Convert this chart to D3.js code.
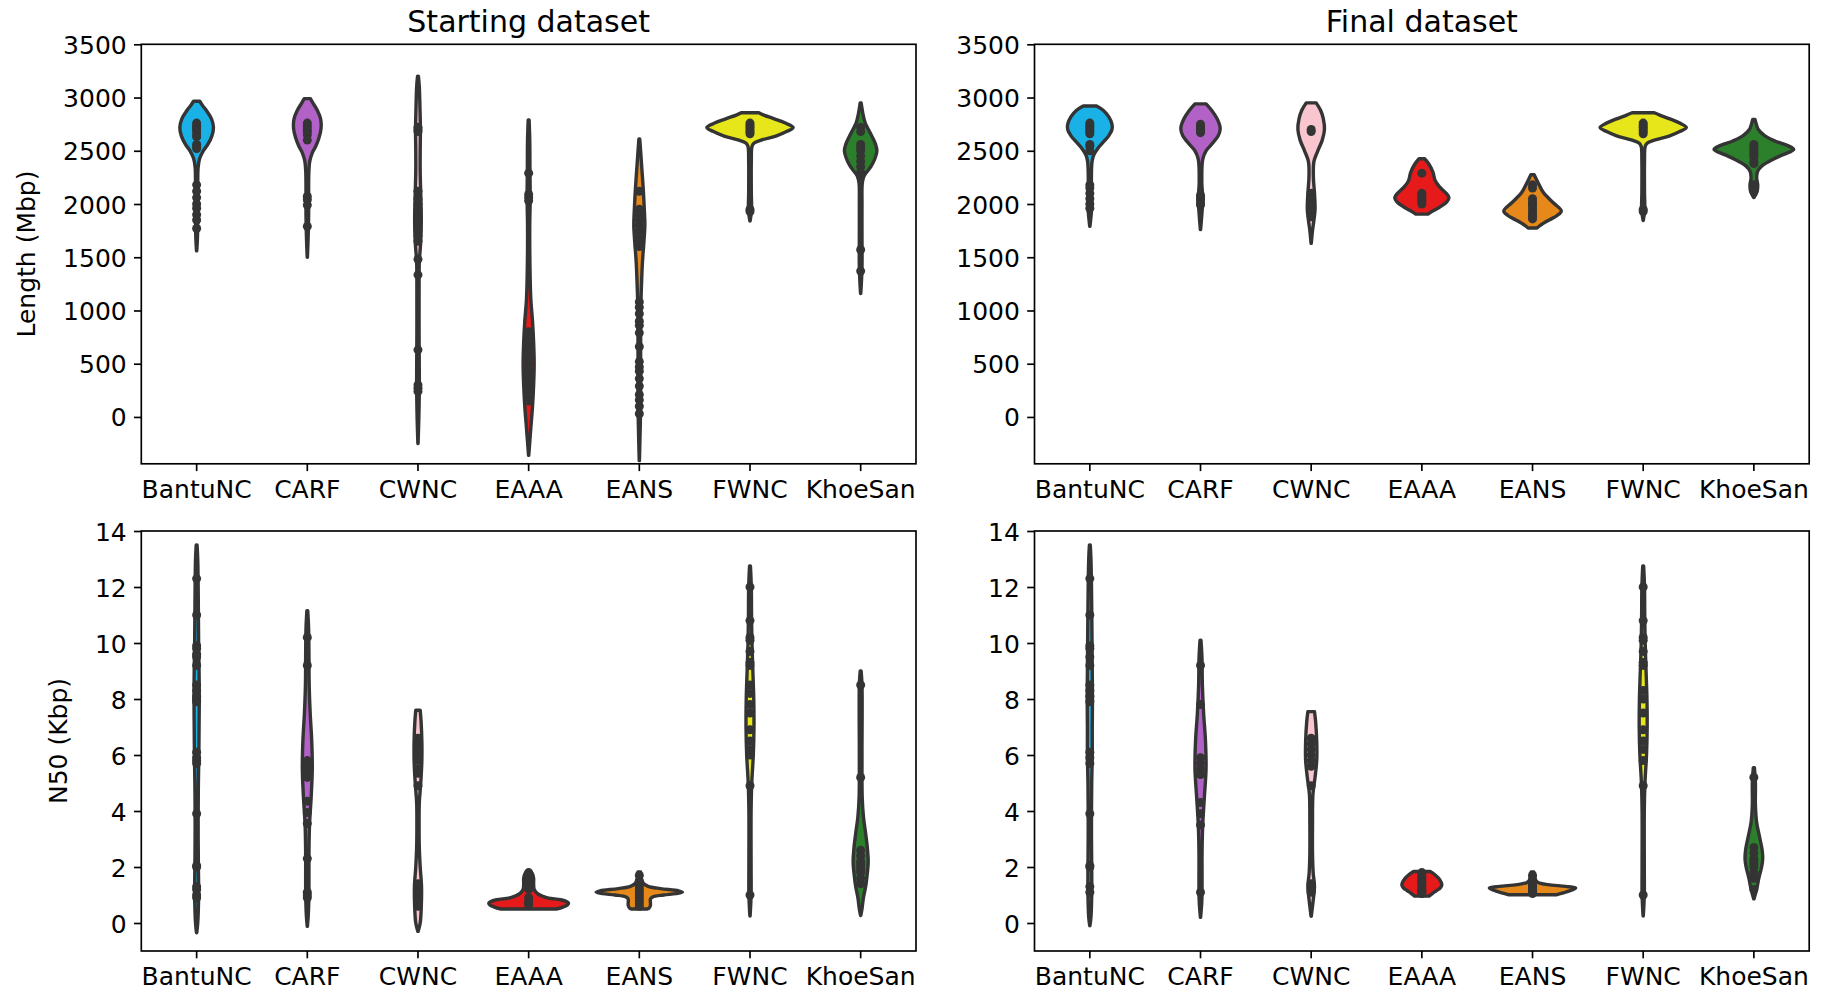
<!DOCTYPE html>
<html>
<head>
<meta charset="utf-8">
<script src="https://cdn.jsdelivr.net/npm/d3@7"></script>
<style>
  html, body { margin: 0; padding: 0; background: #fff; }
  svg { display: block; font-family: "DejaVu Sans", sans-serif; }
</style>
</head>
<body>
<svg id="chart" width="1829" height="990"></svg>
<script>
// ---------------- DATA ----------------
const categories = ["BantuNC", "CARF", "CWNC", "EAAA", "EANS", "FWNC", "KhoeSan"];
const colors = ["#1ab2e6", "#b262c6", "#f9c6cf", "#e61a1a", "#e6891a", "#e6e61a", "#2c802c"];
const titles = ["Starting dataset", "Final dataset"];
const yLabels = ["Length (Mbp)", "N50 (Kbp)"];
const lengthTicks = [0, 500, 1000, 1500, 2000, 2500, 3000, 3500];
const n50Ticks = [0, 2, 4, 6, 8, 10, 12, 14];
const lengthDomain = [-440, 3500];
const n50Domain = [-1, 14];

// Violin density profiles: [value, half-width as fraction of category band]
const startLengthProfiles = [
  [[2965,0.028],[2930,0.05],[2880,0.087],[2800,0.134],[2718,0.152],[2640,0.138],[2560,0.101],[2500,0.06],[2430,0.028],[2350,0.014],[2200,0.01],[1700,0.008],[1560,0.001]],
  [[2990,0.028],[2950,0.05],[2880,0.09],[2800,0.12],[2708,0.124],[2620,0.105],[2540,0.075],[2480,0.045],[2400,0.022],[2300,0.014],[2100,0.012],[1900,0.012],[1700,0.008],[1500,0.001]],
  [[3200,0.004],[3100,0.012],[2900,0.018],[2700,0.022],[2500,0.02],[2300,0.02],[2100,0.025],[1850,0.03],[1650,0.025],[1450,0.012],[1200,0.01],[800,0.01],[400,0.012],[250,0.012],[0,0.008],[-250,0.001]],
  [[2790,0.004],[2600,0.01],[2300,0.012],[2050,0.014],[1800,0.01],[1400,0.012],[1100,0.02],[900,0.035],[700,0.045],[500,0.05],[300,0.045],[100,0.035],[-100,0.02],[-360,0.001]],
  [[2610,0.004],[2450,0.015],[2300,0.025],[2150,0.035],[1950,0.045],[1800,0.05],[1650,0.042],[1450,0.028],[1250,0.02],[1050,0.014],[800,0.012],[500,0.012],[200,0.012],[0,0.01],[-200,0.006],[-410,0.001]],
  [[2857,0.08],[2835,0.125],[2800,0.22],[2760,0.32],[2718,0.39],[2680,0.33],[2640,0.24],[2600,0.1],[2570,0.035],[2540,0.018],[2400,0.012],[2100,0.012],[1950,0.014],[1840,0.001]],
  [[2950,0.004],[2850,0.02],[2765,0.04],[2640,0.1],[2560,0.135],[2500,0.147],[2430,0.13],[2356,0.095],[2300,0.055],[2262,0.03],[2200,0.015],[2000,0.012],[1700,0.012],[1400,0.012],[1160,0.001]]
];
const finalLengthProfiles = [
  [[2920,0.06],[2880,0.12],[2820,0.17],[2750,0.2],[2700,0.2],[2640,0.17],[2580,0.12],[2520,0.07],[2460,0.035],[2400,0.02],[2200,0.014],[2000,0.018],[1900,0.012],[1790,0.001]],
  [[2940,0.05],[2880,0.1],[2800,0.15],[2710,0.178],[2640,0.16],[2560,0.1],[2500,0.05],[2420,0.02],[2200,0.012],[2050,0.02],[1900,0.012],[1760,0.001]],
  [[2950,0.045],[2880,0.085],[2800,0.11],[2700,0.12],[2600,0.1],[2500,0.06],[2400,0.025],[2250,0.02],[2100,0.03],[1950,0.035],[1850,0.025],[1750,0.012],[1630,0.001]],
  [[2425,0.025],[2380,0.06],[2300,0.1],[2220,0.12],[2160,0.16],[2100,0.22],[2060,0.245],[2020,0.225],[1970,0.16],[1930,0.09],[1905,0.055]],
  [[2275,0.015],[2200,0.05],[2105,0.1],[2010,0.19],[1935,0.26],[1890,0.22],[1850,0.15],[1800,0.07],[1775,0.04]],
  [[2857,0.1],[2835,0.15],[2800,0.24],[2760,0.33],[2718,0.39],[2680,0.33],[2640,0.24],[2600,0.1],[2570,0.035],[2540,0.018],[2400,0.012],[2100,0.012],[1950,0.014],[1845,0.001]],
  [[2795,0.01],[2740,0.025],[2700,0.04],[2640,0.1],[2592,0.19],[2551,0.3],[2513,0.36],[2466,0.27],[2419,0.17],[2356,0.07],[2310,0.035],[2250,0.025],[2180,0.035],[2120,0.03],[2060,0.001]]
];
const startN50Profiles = [
  [[13.5,0.004],[13,0.01],[12,0.014],[10,0.018],[9,0.022],[8,0.024],[7,0.022],[6,0.02],[5,0.016],[4,0.014],[3,0.014],[2,0.016],[1,0.018],[0,0.01],[-0.35,0.001]],
  [[11.15,0.004],[10.5,0.012],[9.5,0.015],[8.5,0.017],[7.5,0.026],[6.5,0.04],[5.5,0.045],[4.5,0.035],[3.5,0.02],[2.5,0.015],[1.5,0.015],[0.9,0.014],[0.3,0.009],[-0.12,0.001]],
  [[7.6,0.02],[7.2,0.028],[6.5,0.035],[5.8,0.035],[5.0,0.025],[4.3,0.012],[3.5,0.01],[2.7,0.012],[2.0,0.02],[1.3,0.032],[0.6,0.03],[0.0,0.02],[-0.3,0.001]],
  [[1.85,0.015],[1.75,0.035],[1.6,0.045],[1.4,0.045],[1.2,0.05],[1.05,0.08],[0.95,0.13],[0.89,0.18],[0.83,0.29],[0.76,0.345],[0.71,0.36],[0.64,0.35],[0.57,0.31],[0.5,0.25]],
  [[1.82,0.012],[1.7,0.016],[1.55,0.02],[1.4,0.04],[1.31,0.08],[1.23,0.19],[1.15,0.355],[1.1,0.39],[1.05,0.33],[1.0,0.22],[0.93,0.12],[0.85,0.1],[0.75,0.1],[0.62,0.1],[0.52,0.085],[0.5,0.07]],
  [[12.75,0.004],[12,0.012],[11,0.014],[10,0.018],[9,0.026],[8,0.034],[7,0.036],[6,0.03],[5,0.016],[4,0.01],[2,0.01],[1,0.01],[0.25,0.001]],
  [[9.0,0.004],[8.5,0.012],[6,0.012],[4.5,0.014],[3.8,0.025],[3.2,0.045],[2.7,0.06],[2.2,0.068],[1.7,0.058],[1.3,0.045],[0.9,0.025],[0.5,0.012],[0.27,0.001]]
];
const finalN50Profiles = [
  [[13.5,0.004],[13,0.01],[12,0.015],[10,0.02],[9,0.022],[8,0.024],[7,0.022],[6,0.022],[5,0.017],[4,0.015],[3,0.015],[2,0.017],[1,0.017],[0.2,0.01],[-0.1,0.001]],
  [[10.1,0.004],[9.5,0.013],[8.5,0.017],[7.5,0.028],[6.5,0.045],[5.5,0.05],[4.5,0.035],[3.5,0.02],[2.5,0.014],[1.5,0.014],[0.8,0.012],[0.2,0.001]],
  [[7.55,0.03],[7.2,0.04],[6.5,0.05],[5.8,0.05],[5.2,0.035],[4.6,0.016],[3.5,0.012],[2.5,0.012],[1.8,0.018],[1.3,0.03],[0.8,0.018],[0.24,0.001]],
  [[1.84,0.075],[1.75,0.11],[1.6,0.15],[1.45,0.175],[1.35,0.18],[1.25,0.165],[1.15,0.13],[1.05,0.095],[0.96,0.065]],
  [[1.82,0.012],[1.7,0.02],[1.55,0.025],[1.45,0.05],[1.37,0.14],[1.31,0.3],[1.25,0.39],[1.17,0.35],[1.07,0.27],[1.01,0.22]],
  [[12.75,0.004],[12,0.012],[11,0.014],[10,0.018],[9,0.026],[8,0.034],[7,0.036],[6,0.03],[5,0.016],[4,0.01],[2,0.01],[1,0.01],[0.25,0.001]],
  [[5.55,0.005],[5.0,0.014],[4.2,0.014],[3.6,0.025],[3.1,0.05],[2.6,0.075],[2.3,0.08],[2.0,0.07],[1.6,0.045],[1.2,0.025],[0.86,0.001]]
];

// Individual observations (inner points)
const startLengthPoints = [
  [2760,2740,2720,2700,2680,2650,2630,2560,2540,2520,2180,2120,2060,2000,1960,1900,1850,1770],
  [2760,2730,2700,2680,2650,2600,2070,2040,1990,1790],
  [2720,2700,2680,2120,2050,2000,1950,1900,1850,1800,1750,1700,1650,1480,1335,630,300,270,240],
  [2290,2090,2060,2030,800,740,700,650,600,550,500,450,400,350,300,250,200,150],
  [2120,1950,1900,1850,1800,1750,1700,1650,1600,1080,1030,970,900,860,790,660,520,470,430,360,290,210,160,100,30],
  [2760,2740,2720,2700,2680,2660,1950,1930],
  [2720,2680,2560,2530,2500,2450,2400,2350,2300,2260,1570,1370]
];
const finalLengthPoints = [
  [2760,2740,2720,2700,2680,2660,2560,2540,2500,2180,2150,2100,2050,2000,1960],
  [2750,2730,2710,2690,2670,2080,2060,2040,2010,1990],
  [2700,2680,2100,2050,2000,1960,1920,1880],
  [2290,2100,2080,2060,2040,2020,2000],
  [2180,2150,2050,2020,2000,1980,1950,1920,1900,1880,1860],
  [2760,2740,2720,2700,2680,2660,1950,1930],
  [2560,2540,2520,2500,2480,2460,2440,2400,2380,2180,2150,2120]
];
const startN50Points = [
  [12.3,11.0,9.9,9.8,9.6,9.5,9.2,8.5,8.3,8.1,8.0,7.9,6.1,5.9,5.8,5.7,3.9,2.05,2.0,1.3,1.2,1.0,0.9],
  [10.2,9.2,5.8,5.6,5.4,5.2,4.35,3.95,3.55,2.3,1.1,1.0,0.9],
  [6.6,6.4,6.3,6.2,6.0,5.8,5.5,5.35,4.9,1.4,1.2,1.1,1.0,0.8,0.6],
  [1.8,1.7,1.6,1.55,1.5,1.45,1.4,1.3,1.25,1.2,0.9,0.75,0.7,0.65],
  [1.7,1.5,1.4,1.3,1.2,1.1,1.0,0.9,0.8,0.7,0.6],
  [12.0,10.8,10.2,10.1,9.7,9.3,9.2,8.5,8.2,7.8,7.5,6.9,6.5,6.2,6.0,4.9,1.0],
  [8.5,5.2,2.6,2.4,2.2,2.1,2.0,1.9,1.8,1.6,1.4]
];
const finalN50Points = [
  [12.3,11.0,9.9,9.8,9.5,9.2,8.5,8.3,8.1,7.9,6.1,5.9,5.7,3.9,2.05,2.0,1.3,1.1],
  [9.2,7.8,5.9,5.7,5.5,5.3,4.3,3.9,3.5,1.1],
  [6.6,6.4,6.2,6.0,5.8,5.6,4.9,1.4,1.3,1.2,1.1],
  [1.8,1.7,1.6,1.5,1.45,1.4,1.3,1.2,1.15,1.1,1.05],
  [1.7,1.55,1.45,1.35,1.3,1.25,1.2,1.15,1.1,1.05],
  [12.0,10.8,10.2,10.1,9.7,9.3,9.2,8.3,8.0,7.5,6.9,6.5,6.2,5.8,4.9,1.0],
  [5.2,2.7,2.5,2.3,2.2,2.1,2.0,1.8,1.6,1.2]
];

// ---------------- LAYOUT ----------------
const outline = "#343434";
const fontPx = 25, titlePx = 30;
const colX = [[141.3, 916.0], [1034.5, 1809.2]];
const rowY = [[44.3, 463.8], [531.0, 951.0]];
const yLabelX = [35, 66.5];

const panels = [
  {row: 0, col: 0, profiles: startLengthProfiles, points: startLengthPoints, domain: lengthDomain, ticks: lengthTicks},
  {row: 0, col: 1, profiles: finalLengthProfiles, points: finalLengthPoints, domain: lengthDomain, ticks: lengthTicks},
  {row: 1, col: 0, profiles: startN50Profiles, points: startN50Points, domain: n50Domain, ticks: n50Ticks},
  {row: 1, col: 1, profiles: finalN50Profiles, points: finalN50Points, domain: n50Domain, ticks: n50Ticks}
];

const svg = d3.select("#chart");
svg.append("rect").attr("width", 1829).attr("height", 990).attr("fill", "#fff");

panels.forEach(p => {
  const [x0, x1] = colX[p.col];
  const [yTop, yBot] = rowY[p.row];
  const x = d3.scaleBand().domain(categories).range([x0, x1]).padding(0);
  const y = d3.scaleLinear().domain(p.domain).range([yBot, yTop]);
  const bw = x.bandwidth();
  const g = svg.append("g");

  // violins
  categories.forEach((cat, i) => {
    const cx = x(cat) + bw / 2;
    const prof = p.profiles[i];
    const area = d3.area()
      .y(d => y(d[0]))
      .x0(d => cx - d[1] * bw)
      .x1(d => cx + d[1] * bw)
      .curve(d3.curveCatmullRom.alpha(0.5));
    g.append("path")
      .attr("d", area(prof))
      .attr("fill", colors[i])
      .attr("stroke", outline)
      .attr("stroke-width", 3.4)
      .attr("stroke-linejoin", "round");
    g.selectAll(null)
      .data(p.points[i])
      .enter().append("circle")
      .attr("cx", cx)
      .attr("cy", d => y(d))
      .attr("r", 4.5)
      .attr("fill", outline);
  });

  // frame
  g.append("rect")
    .attr("x", x0).attr("y", yTop)
    .attr("width", x1 - x0).attr("height", yBot - yTop)
    .attr("fill", "none").attr("stroke", "#000").attr("stroke-width", 1.67);

  // y axis
  const yAxis = d3.axisLeft(y).tickValues(p.ticks).tickSize(7.3).tickPadding(7.3).tickFormat(d3.format("d"));
  const ya = g.append("g").attr("transform", `translate(${x0},0)`).call(yAxis);
  ya.select(".domain").remove();
  ya.selectAll(".tick line").attr("stroke", "#000").attr("stroke-width", 1.67);
  ya.selectAll(".tick text").attr("font-size", fontPx).attr("fill", "#000")
    .attr("font-family", "DejaVu Sans").attr("dy", "0.36em");

  // x axis
  const xAxis = d3.axisBottom(x).tickSize(7.3).tickPadding(7.3);
  const xa = g.append("g").attr("transform", `translate(0,${yBot})`).call(xAxis);
  xa.select(".domain").remove();
  xa.selectAll(".tick line").attr("stroke", "#000").attr("stroke-width", 1.67);
  xa.selectAll(".tick text").attr("font-size", fontPx).attr("fill", "#000")
    .attr("font-family", "DejaVu Sans").attr("y", 34.3).attr("dy", 0);

  // title
  if (p.row === 0) {
    g.append("text")
      .attr("x", (x0 + x1) / 2).attr("y", yTop - 12.5)
      .attr("text-anchor", "middle").attr("font-size", titlePx)
      .attr("fill", "#000").text(titles[p.col]);
  }
  // y label
  if (p.col === 0) {
    const cy = (yTop + yBot) / 2;
    g.append("text")
      .attr("transform", `translate(${yLabelX[p.row]},${cy}) rotate(-90)`)
      .attr("text-anchor", "middle").attr("font-size", fontPx)
      .attr("fill", "#000").text(yLabels[p.row]);
  }
});
</script>
</body>
</html>
